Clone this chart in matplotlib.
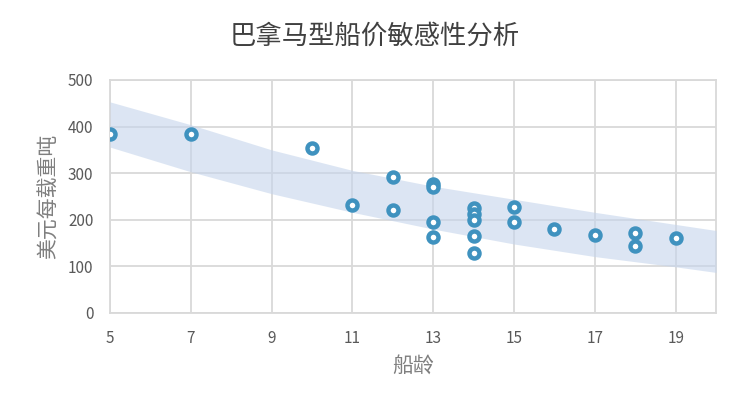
import numpy as np
import matplotlib
matplotlib.use('Agg')
import matplotlib.pyplot as plt

plt.rcParams['font.family'] = ['Noto Sans CJK SC', 'DejaVu Sans']

# ship age vs USD per DWT
ages = [5, 7, 10, 11, 12, 12, 13, 13, 13, 13, 14, 14, 14, 14, 14, 15, 15, 16, 17, 18, 18, 19]
prices = [384, 384, 354, 232, 292, 221, 276, 270, 195, 164, 225, 212, 199, 165, 129, 227, 195, 181, 167, 171, 144, 161]

# confidence band
band_x = [5, 7, 9, 11, 13, 15, 17, 19, 20]
band_hi = [453, 404, 350, 306, 272, 244, 216, 190, 177]
band_lo = [356, 303, 256, 216, 180, 148, 121, 99, 87]

xticks = [5, 7, 9, 11, 13, 15, 17, 19]
yticks = [0, 100, 200, 300, 400, 500]

fig = plt.figure(figsize=(7.49, 4.07), dpi=100)
ax = fig.add_axes([0.1469, 0.2310, 0.8092, 0.5725])

ax.fill_between(band_x, band_lo, band_hi, color='#c5d5ec', alpha=0.6, linewidth=0, zorder=3)

ax.scatter(ages, prices, s=52, facecolor='white', edgecolor='#3f92bf', linewidth=3.2, zorder=4)

ax.set_xlim(5, 20)
ax.set_ylim(0, 500)
ax.set_xticks(xticks)
ax.set_yticks(yticks)
ax.grid(True, color='#d9d9d9', linewidth=1.3, zorder=1)
ax.set_axisbelow(True)
for s in ax.spines.values():
    s.set_color('#d9d9d9')
    s.set_linewidth(1.3)
ax.tick_params(length=0, labelsize=11, labelcolor='#595959', pad=12)

ax.set_xlabel('船龄', fontsize=15, color='#7f7f7f', labelpad=6)
ax.set_ylabel('美元每载重吨', fontsize=15, color='#7f7f7f', labelpad=6)
fig.suptitle('巴拿马型船价敏感性分析', fontsize=19, color='#404040', x=0.5, y=0.945,
             fontweight='medium')

plt.savefig('out.png', dpi=100)
